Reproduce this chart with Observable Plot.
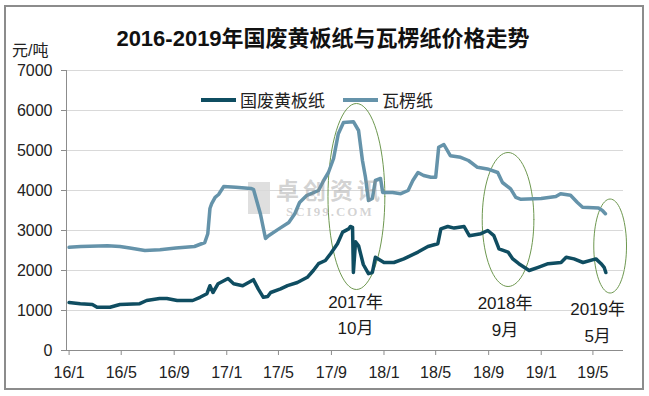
<!DOCTYPE html>
<html><head><meta charset="utf-8">
<script src="https://cdn.jsdelivr.net/npm/d3@7"></script>
<script src="https://cdn.jsdelivr.net/npm/@observablehq/plot@0.6"></script>
<style>
body{margin:0;background:#fff;}
#wrap{position:relative;width:649px;height:396px;overflow:hidden;font-family:"Liberation Sans","Noto Sans CJK SC",sans-serif;}
#frame{position:absolute;left:4px;top:5px;width:636px;height:381px;border:2px solid #8c8c8c;}
#title{position:absolute;left:0;width:646px;top:20px;text-align:center;font-size:22px;font-weight:bold;color:#111;}
#unit{position:absolute;left:12px;top:37px;font-size:16px;color:#222;}
#legend{position:absolute;left:201px;top:87px;display:flex;align-items:center;font-size:17px;color:#222;}
.sw{display:inline-block;width:35px;height:4px;margin-right:4px;}
#wm{position:absolute;left:248px;top:179px;color:rgba(140,140,140,0.38);font-weight:bold;}
#logo{position:absolute;left:248px;top:182px;width:22px;height:32px;background:rgba(150,150,150,0.3);}
#plot{position:absolute;left:0;top:0;}
</style></head>
<body><div id="wrap"><div id="frame"></div><div id="logo"></div><div id="plot"></div>
<div id="title">2016-2019年国废黄板纸与瓦楞纸价格走势</div>
<div id="unit">元/吨</div>
<div id="legend"><span class="sw" style="background:#0f4d61"></span><span>国废黄板纸</span><span class="sw" style="background:#6593aa;margin-left:18px"></span><span>瓦楞纸</span></div>
</div>
<script>
const seriesNames = ["国废黄板纸", "瓦楞纸"];
const seriesColors = ["#0f4d61", "#6593aa"];
const hbDates = ["2016-01-01","2016-01-27","2016-02-24","2016-03-06","2016-04-05","2016-04-28","2016-06-13","2016-06-29","2016-07-29","2016-08-15","2016-09-08","2016-10-14","2016-10-31","2016-11-16","2016-11-23","2016-11-30","2016-12-12","2017-01-04","2017-01-17","2017-02-07","2017-03-04","2017-03-15","2017-03-27","2017-04-06","2017-04-13","2017-05-06","2017-05-22","2017-06-14","2017-07-07","2017-07-21","2017-08-02","2017-08-18","2017-08-30","2017-09-15","2017-09-27","2017-10-11","2017-10-15","2017-10-20","2017-10-22","2017-10-27","2017-11-03","2017-11-14","2017-11-26","2017-12-05","2017-12-12","2018-01-01","2018-01-24","2018-02-16","2018-03-21","2018-04-13","2018-05-06","2018-05-13","2018-05-29","2018-06-13","2018-07-06","2018-07-18","2018-08-14","2018-08-30","2018-09-13","2018-09-25","2018-10-16","2018-10-27","2018-11-10","2018-12-04","2018-12-25","2019-01-17","2019-02-16","2019-02-28","2019-03-18","2019-04-08","2019-05-08","2019-05-20","2019-05-27","2019-05-31"];
const hbValues = [1200,1170,1150,1080,1080,1150,1170,1250,1300,1300,1250,1250,1330,1420,1620,1450,1670,1800,1670,1620,1770,1540,1330,1350,1450,1540,1620,1700,1830,2000,2170,2250,2420,2670,2960,3040,3100,3080,1950,2720,2620,2150,1920,1950,2330,2200,2200,2290,2460,2600,2670,3040,3100,3060,3100,2870,2920,3000,2870,2540,2460,2290,2170,2000,2080,2170,2200,2330,2290,2200,2290,2170,2080,1950];
const wlDates = ["2016-01-01","2016-01-28","2016-03-30","2016-04-28","2016-05-21","2016-06-25","2016-07-30","2016-09-05","2016-10-18","2016-11-11","2016-11-18","2016-11-23","2016-11-27","2016-12-05","2016-12-13","2016-12-25","2017-01-22","2017-02-26","2017-03-04","2017-03-20","2017-04-01","2017-04-08","2017-05-02","2017-05-25","2017-06-08","2017-06-19","2017-07-05","2017-08-02","2017-08-14","2017-08-25","2017-09-06","2017-09-17","2017-09-29","2017-10-22","2017-11-03","2017-11-12","2017-11-19","2017-11-26","2017-12-05","2017-12-12","2017-12-24","2017-12-29","2018-01-21","2018-02-09","2018-02-26","2018-03-09","2018-03-21","2018-04-03","2018-04-20","2018-05-01","2018-05-08","2018-05-20","2018-06-04","2018-06-28","2018-07-16","2018-08-06","2018-08-29","2018-09-22","2018-10-03","2018-10-22","2018-11-03","2018-11-15","2019-01-01","2019-02-04","2019-02-15","2019-03-10","2019-03-26","2019-04-07","2019-05-14","2019-05-23","2019-05-30"];
const wlValues = [2580,2600,2620,2600,2560,2500,2520,2560,2600,2700,2920,3550,3670,3830,3900,4100,4080,4050,4030,3420,2800,2870,3040,3200,3420,3700,3870,4000,4250,4450,4800,5420,5700,5720,5500,4750,4330,3750,3800,4250,4300,3950,3950,3920,4000,4250,4450,4375,4330,4330,5080,5150,4870,4830,4750,4580,4540,4450,4200,4040,3830,3780,3800,3850,3920,3880,3700,3580,3560,3500,3420];
const yTicks = [0,1000,2000,3000,4000,5000,6000,7000];
const yTickLabels = ["0","1000","2000","3000","4000","5000","6000","7000"];
const xTickDates = ["2016-01-01","2016-05-01","2016-09-01","2017-01-01","2017-05-01","2017-09-01","2018-01-01","2018-05-01","2018-09-01","2019-01-01","2019-05-01"];
const xTickLabels = ["16/1","16/5","16/9","17/1","17/5","17/9","18/1","18/5","18/9","19/1","19/5"];
const noteTexts = ["2017年\n10月","2018年\n9月","2019年\n5月"];
const noteDates = ["2017-10-27","2018-10-09","2019-05-12"];
const noteValues = [940,910,760];
// ellipse annotations: centre date/value, half-width in days, half-height in value units
const ellDates = ["2017-10-29","2018-10-16","2019-06-10"];
const ellValues = [3850,3275,2612];
const ellRxDays = [66,60,38];
const ellRy = [2325,1675,1175];

const parse = s => new Date(s + "T00:00:00Z");
const hb = hbDates.map((d,i)=>({date:parse(d), value:hbValues[i]}));
const wl = wlDates.map((d,i)=>({date:parse(d), value:wlValues[i]}));
const xTicks = xTickDates.map(parse);
const labelOf = new Map(xTicks.map((d,i)=>[+d, xTickLabels[i]]));
const yLabelOf = new Map(yTicks.map((d,i)=>[d, yTickLabels[i]]));
const notes = noteTexts.map((t,i)=>({text:t, date:parse(noteDates[i]), value:noteValues[i]}));
const ellPts = [];
ellDates.forEach((d,k)=>{
  const c = +parse(d), rx = ellRxDays[k]*864e5;
  for (let j=0;j<=72;j++){ const a = j/72*2*Math.PI;
    ellPts.push({k, date:new Date(c + rx*Math.cos(a)), value: ellValues[k] + ellRy[k]*Math.sin(a)}); }
});
const x0 = parse("2015-12-26"), x1 = parse("2019-07-11");

const chart = Plot.plot({
  width:649, height:396, marginTop:70, marginBottom:46, marginLeft:66, marginRight:26,
  style:{fontFamily:'"Liberation Sans","Noto Sans CJK SC",sans-serif', fontSize:"16px", color:"#222", background:"transparent"},
  x:{type:"utc", domain:[x0,x1]},
  y:{domain:[0,7000]},
  marks:[
    Plot.gridY(yTicks,{stroke:"#d9d9d9", strokeOpacity:1}),
    Plot.ruleY([0],{stroke:"#8c8c8c"}),
    Plot.ruleX([x0],{stroke:"#8c8c8c"}),
    Plot.axisY({ticks:yTicks, tickSize:5, tickPadding:9, stroke:"#8c8c8c", label:null, fontSize:16, tickFormat:d=>yLabelOf.get(d)}),
    Plot.axisX({ticks:xTicks, tickSize:5, tickPadding:11, stroke:"#8c8c8c", label:null, fontSize:16, tickFormat:d=>labelOf.get(+d)}),
    Plot.line(ellPts,{x:"date", y:"value", z:"k", stroke:"#6e9850", strokeWidth:1}),
    Plot.line(wl,{x:"date", y:"value", stroke:seriesColors[1], strokeWidth:3.5, strokeLinejoin:"round"}),
    Plot.line(hb,{x:"date", y:"value", stroke:seriesColors[0], strokeWidth:3.5, strokeLinejoin:"round"}),
    Plot.text(notes,{x:"date", y:"value", text:"text", fontSize:17, lineHeight:1.55, fill:"#1a1a1a", lineAnchor:"middle"})
  ]
});
document.getElementById("plot").appendChild(chart);
const wm = document.createElement("div");
wm.id="wm";
wm.innerHTML='<div style="font-size:23px;letter-spacing:4px;padding-left:28px;line-height:24px;height:24px">卓创资讯</div><div style="font-size:13px;padding-left:38px;font-family:serif;letter-spacing:2px;line-height:14px;height:14px;margin-top:2px">SCI99.COM</div>';
document.getElementById("wrap").appendChild(wm);
</script>
</body></html>
